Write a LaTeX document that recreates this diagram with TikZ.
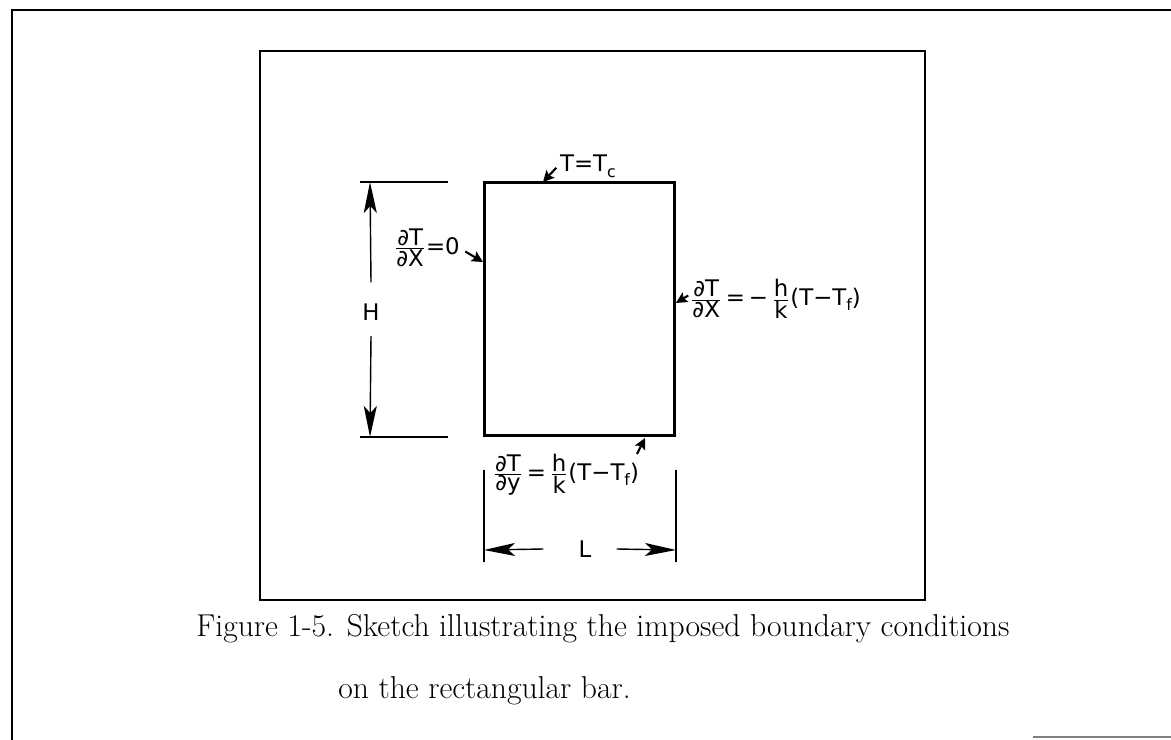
\documentclass[tikz,border=0pt]{standalone}
\usepackage{fontspec}
\usetikzlibrary{arrows.meta}
\newfontfamily\lblfont{DejaVu Sans}
\newcommand{\fr}[2]{$\frac{\hbox{#1}}{\hbox{#2}}$}
\newcommand{\sub}[1]{\raisebox{-0.45ex}{\fontsize{9}{9}\selectfont #1}}
\begin{document}
\begin{tikzpicture}[x=0.02cm,y=-0.02cm,
  frameline/.style={line width=1.6pt},
  dimline/.style={line width=0.8pt},
  dimarrow/.style={line width=0.8pt,-{Stealth[length=0.62cm,width=0.26cm,inset=0.14cm]}},
  lblarrow/.style={line width=1.2pt,-{Stealth[length=0.22cm,width=0.22cm,inset=0.04cm]}},
  lbl/.style={font=\lblfont\fontsize{13}{15}\selectfont, inner sep=0pt},
  capfont/.style={font=\fontsize{18}{21}\selectfont, inner sep=0pt, anchor=base west},
]
\useasboundingbox (0,0) rectangle (1171,740);
% outer page frame
\coordinate (oTR) at (1171,10);
\coordinate (oTL) at (12,10);
\coordinate (oBL) at (12,740);
\draw[frameline] (oTR) -- (oTL) -- (oBL);
\coordinate (gA) at (1033,737);
\coordinate (gB) at (1171,737);
\draw[gray, line width=1.2pt] (gA) -- (gB);
% inner frame
\node[draw, line width=1.6pt, minimum width=13.3cm, minimum height=10.98cm, inner sep=0pt] (inner) at (592.5,325.5) {};
% bar
\node[draw, line width=1.7pt, minimum width=3.82cm, minimum height=5.08cm, inner sep=0pt] (bar) at (579.5,309) {};
% H dimension
\coordinate (HeT1) at (360,182); \coordinate (HeT2) at (448,182);
\coordinate (HeB1) at (360,437); \coordinate (HeB2) at (448,437);
\draw[dimline] (HeT1) -- (HeT2);
\draw[dimline] (HeB1) -- (HeB2);
\coordinate (Htop) at (370,182);
\coordinate (Hbot) at (370,437);
\node[lbl] (H) at (371,312) {H};
\draw[dimarrow] ([yshift=0.42cm]H.north) -- (Htop);
\draw[dimarrow] ([yshift=-0.31cm]H.south) -- (Hbot);
% L dimension
\coordinate (LeL1) at (484,470); \coordinate (LeL2) at (484,562);
\coordinate (LeR1) at (676,470); \coordinate (LeR2) at (676,562);
\draw[dimline] (LeL1) -- (LeL2);
\draw[dimline] (LeR1) -- (LeR2);
\coordinate (Lleft) at (484,550);
\coordinate (Lright) at (676,550);
\node[lbl] (L) at (585,549) {L};
\draw[dimarrow] ([xshift=-0.7cm]L.west) -- (Lleft);
\draw[dimarrow] ([xshift=0.5cm]L.east) -- (Lright);
% boundary condition labels
\node[lbl] (tc) at (588,166) {T=T\sub{c}};
\coordinate (tcP) at (543,182);
\draw[lblarrow] ([xshift=-2pt,yshift=-1pt]tc.west) -- (tcP);
\node[lbl] (bcl) at (427,248) {\fr{∂T}{∂X}=0};
\coordinate (bclP) at (483,262);
\draw[lblarrow] ([xshift=3pt,yshift=-2pt]bcl.east) -- (bclP);
\node[lbl, anchor=west] (bcr) at (690,299) {\fr{∂T}{∂X}\,=\,−\,\fr{h}{k}(T−T\sub{f})};
\coordinate (bcrP) at (676,303);
\draw[lblarrow] ([xshift=-1pt,yshift=2pt]bcr.west) -- (bcrP);
\node[lbl] (bcb) at (566,475) {\fr{∂T}{∂y}\,=\,\fr{h}{k}(T−T\sub{f})};
\coordinate (bcbP) at (645,438);
\coordinate (bcbT) at (637,454);
\draw[lblarrow] (bcbT) -- (bcbP);
% caption
\node[capfont] (cap1) at (196,636) {Figure 1-5. Sketch illustrating the imposed boundary conditions};
\node[capfont] (cap2) at (338,698) {on the rectangular bar.};
\end{tikzpicture}
\end{document}
